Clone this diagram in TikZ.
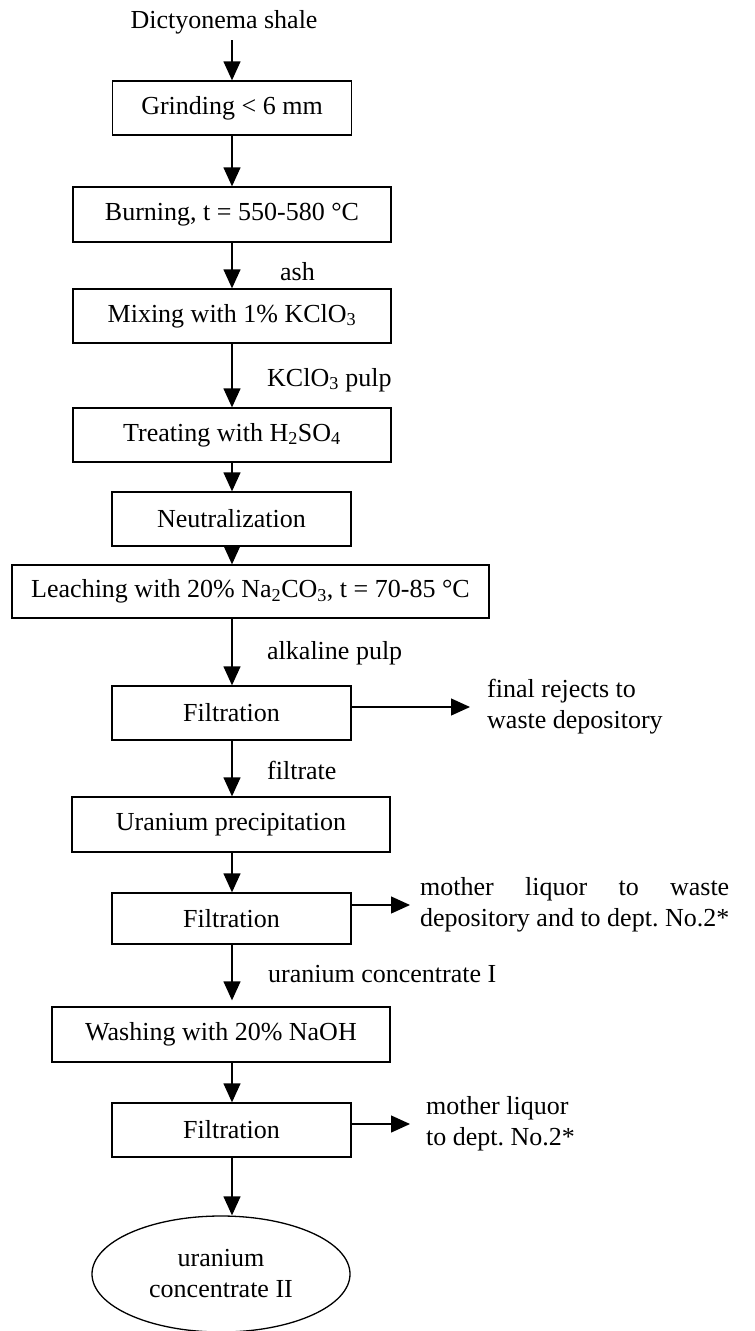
\documentclass[tikz,border=0pt]{standalone}
\usepackage{fontspec}
\setmainfont{Liberation Serif}
\usetikzlibrary{arrows.meta,shapes.geometric}
\newlength{\mlwidth}
\tikzset{
  txt/.style={font=\fontsize{26}{31}\selectfont\frenchspacing, inner sep=0pt},
  box/.style={txt, draw, line width=1.3pt, rectangle},
  lbl/.style={txt, anchor=west, align=left},
  arr/.style={line width=1.3pt, -{Triangle[length=19pt,width=17pt]}},
}
\begin{document}
\begin{tikzpicture}[x=1pt,y=-1pt]
\useasboundingbox (0,0) rectangle (755,1331);
\node[txt] (src) at (224,22) {Dictyonema shale};
\node[box, minimum width=239pt, minimum height=54pt] (grind) at (232,108) {Grinding < 6 mm};
\node[box, minimum width=318pt, minimum height=55pt] (burn) at (232,214.5) {Burning, t = 550-580 °C};
\node[box, minimum width=318pt, minimum height=54pt] (mix) at (232,316) {Mixing with 1\% KClO\textsubscript{3}};
\node[box, minimum width=318pt, minimum height=54pt] (treat) at (232,435) {Treating with H\textsubscript{2}SO\textsubscript{4}};
\node[box, minimum width=239pt, minimum height=54pt] (neut) at (231.5,519) {Neutralization};
\node[box, minimum width=477pt, minimum height=53pt] (leach) at (250.5,591.5) {Leaching with 20\% Na\textsubscript{2}CO\textsubscript{3}, t = 70-85 °C};
\node[box, minimum width=239pt, minimum height=54pt] (filt1) at (231.5,713) {Filtration};
\node[box, minimum width=318pt, minimum height=55pt] (uran) at (231,824.5) {Uranium precipitation};
\node[box, minimum width=239pt, minimum height=51pt] (filt2) at (231.5,918.5) {Filtration};
\node[box, minimum width=338pt, minimum height=55pt] (wash) at (221,1034.5) {Washing with 20\% NaOH};
\node[box, minimum width=239pt, minimum height=54pt] (filt3) at (231.5,1130) {Filtration};
\node[txt, draw, line width=1.3pt, ellipse, minimum width=258pt, minimum height=116pt, align=center] (ell) at (221,1274) {uranium\\concentrate II};

\node[lbl] (ash) at (280,272) {ash};
\node[lbl] (kpulp) at (267,380) {KClO\textsubscript{3} pulp};
\node[lbl] (alk) at (267,653) {alkaline pulp};
\node[lbl] (filtr) at (267,770) {filtrate};
\node[lbl] (uc1) at (268,974) {uranium concentrate I};
\node[lbl] (rej) at (487,707) {final rejects to\\waste depository};
\node[lbl] (ml1) at (420,905) {\settowidth{\mlwidth}{depository and to dept. No.2*}\hbox to \mlwidth{mother\hfill liquor\hfill to\hfill waste}\\depository and to dept. No.2*};
\node[lbl] (ml2) at (426,1124) {mother liquor\\to dept. No.2*};

\draw[arr, shorten <=6pt] (src.south -| grind.north) -- (grind.north);
\draw[arr] (grind.south) -- (burn.north);
\draw[arr] (burn.south) -- (mix.north);
\draw[arr] (mix.south) -- (treat.north);
\draw[arr] (treat.south) -- (treat.south |- neut.north);
\draw[arr] (treat.south |- neut.south) -- (treat.south |- leach.north);
\draw[arr] (treat.south |- leach.south) -- (treat.south |- filt1.north);
\draw[arr] (treat.south |- filt1.south) -- (treat.south |- uran.north);
\draw[arr] (treat.south |- uran.south) -- (treat.south |- filt2.north);
\draw[arr, shorten >=6pt] (treat.south |- filt2.south) -- (treat.south |- wash.north);
\draw[arr] (treat.south |- wash.south) -- (treat.south |- filt3.north);
\draw[arr] (treat.south |- filt3.south) -- (treat.south |- ell.north);

\draw[arr, shorten >=17pt] (filt1.east |- rej.west) -- (rej.west);
\draw[arr, shorten >=10pt] (filt2.east |- ml1.west) -- (ml1.west);
\draw[arr, shorten >=16pt] (filt3.east |- ml2.west) -- (ml2.west);
\end{tikzpicture}
\end{document}
